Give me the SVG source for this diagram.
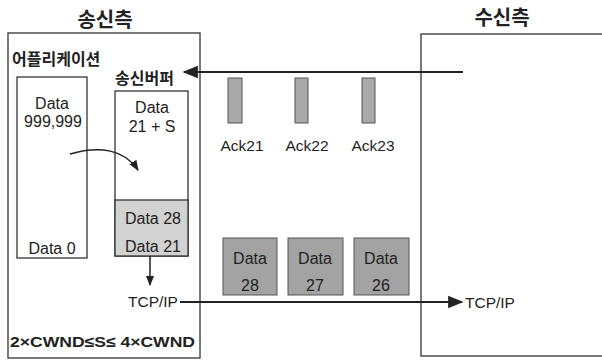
<svg xmlns="http://www.w3.org/2000/svg" width="602" height="361" viewBox="0 0 602 361">
<defs>
<style>
text{font-family:"Liberation Sans","Noto Sans CJK KR",sans-serif;fill:#222}
.t{font-size:20px;font-weight:bold;text-anchor:middle}
.k{font-size:16px;font-weight:bold}
.f{font-size:15px;font-weight:bold}
.l{font-size:15.5px}
.d{font-size:16px}
.c{text-anchor:middle}
.box{fill:#fff;stroke:#333;stroke-width:1.3}
.ack{fill:#a9a9a9;stroke:#555;stroke-width:1}
.pkt{fill:#a3a3a3;stroke:#555;stroke-width:1}
.ln{stroke:#222;stroke-width:2.2;fill:none}
</style>
<marker id="ah2" viewBox="0 0 10 10" refX="9" refY="5" markerWidth="7" markerHeight="7" orient="auto" markerUnits="strokeWidth"><path d="M0,1 L10,5 L0,9 z" fill="#222"/></marker>
</defs>
<g id="sender">
<rect class="box" x="8" y="33" width="192" height="325"/>
<text class="t" x="105" y="27">송신측</text>
<text class="k" x="12" y="65">어플리케이션</text>
</g>
<g id="receiver">
<rect class="box" x="421" y="34" width="190" height="322"/>
<text class="t" x="502" y="25">수신측</text>
</g>
<g id="app">
<rect class="box" x="17" y="77" width="70" height="181"/>
<text class="d c" x="52" y="109">Data</text>
<text class="d c" x="53" y="127">999,999</text>
<text class="d c" x="52" y="254">Data 0</text>
</g>
<g id="buffer">
<text class="k" x="115" y="84">송신버퍼</text>
<rect class="box" x="115" y="91" width="73" height="165"/>
<rect x="115" y="200" width="73" height="56" fill="#d2d2d2" stroke="#333" stroke-width="1.3"/>
<text class="d c" x="152" y="113">Data</text>
<text class="d c" x="152" y="132">21 + S</text>
<text class="d c" x="153" y="224">Data 28</text>
<text class="d c" x="153" y="252">Data 21</text>
</g>
<g id="tcp-left"><text class="l" x="128" y="307">TCP/IP</text></g>
<g id="tcp-right"><text class="l" x="465" y="308">TCP/IP</text></g>
<g id="formula"><text class="f" x="10" y="347" textLength="185" lengthAdjust="spacingAndGlyphs">2×CWND≤S≤ 4×CWND</text></g>
<g id="ack21"><rect class="ack" x="228" y="78" width="14" height="45"/><text class="l c" x="242" y="151">Ack21</text></g>
<g id="ack22"><rect class="ack" x="295" y="78" width="13" height="45"/><text class="l c" x="307" y="151">Ack22</text></g>
<g id="ack23"><rect class="ack" x="362" y="78" width="13" height="45"/><text class="l c" x="373" y="151">Ack23</text></g>
<g id="data28"><rect class="pkt" x="223" y="238" width="54" height="57"/><text class="d c" x="250" y="264">Data</text><text class="d c" x="250" y="291">28</text></g>
<g id="data27"><rect class="pkt" x="288" y="238" width="55" height="57"/><text class="d c" x="315" y="264">Data</text><text class="d c" x="315" y="291">27</text></g>
<g id="data26"><rect class="pkt" x="354" y="238" width="55" height="57"/><text class="d c" x="381" y="264">Data</text><text class="d c" x="381" y="291">26</text></g>
<g id="connectors">
<line class="ln" x1="463" y1="72" x2="184" y2="72" marker-end="url(#ah2)"/>
<path d="M70,154 C100,145 125,150 138,170" fill="none" stroke="#222" stroke-width="1.5" marker-end="url(#ah2)"/>
<line x1="150" y1="256" x2="150" y2="285" stroke="#222" stroke-width="1.5" marker-end="url(#ah2)"/>
<line class="ln" x1="180" y1="302" x2="462" y2="302" marker-end="url(#ah2)"/>
</g>
</svg>
